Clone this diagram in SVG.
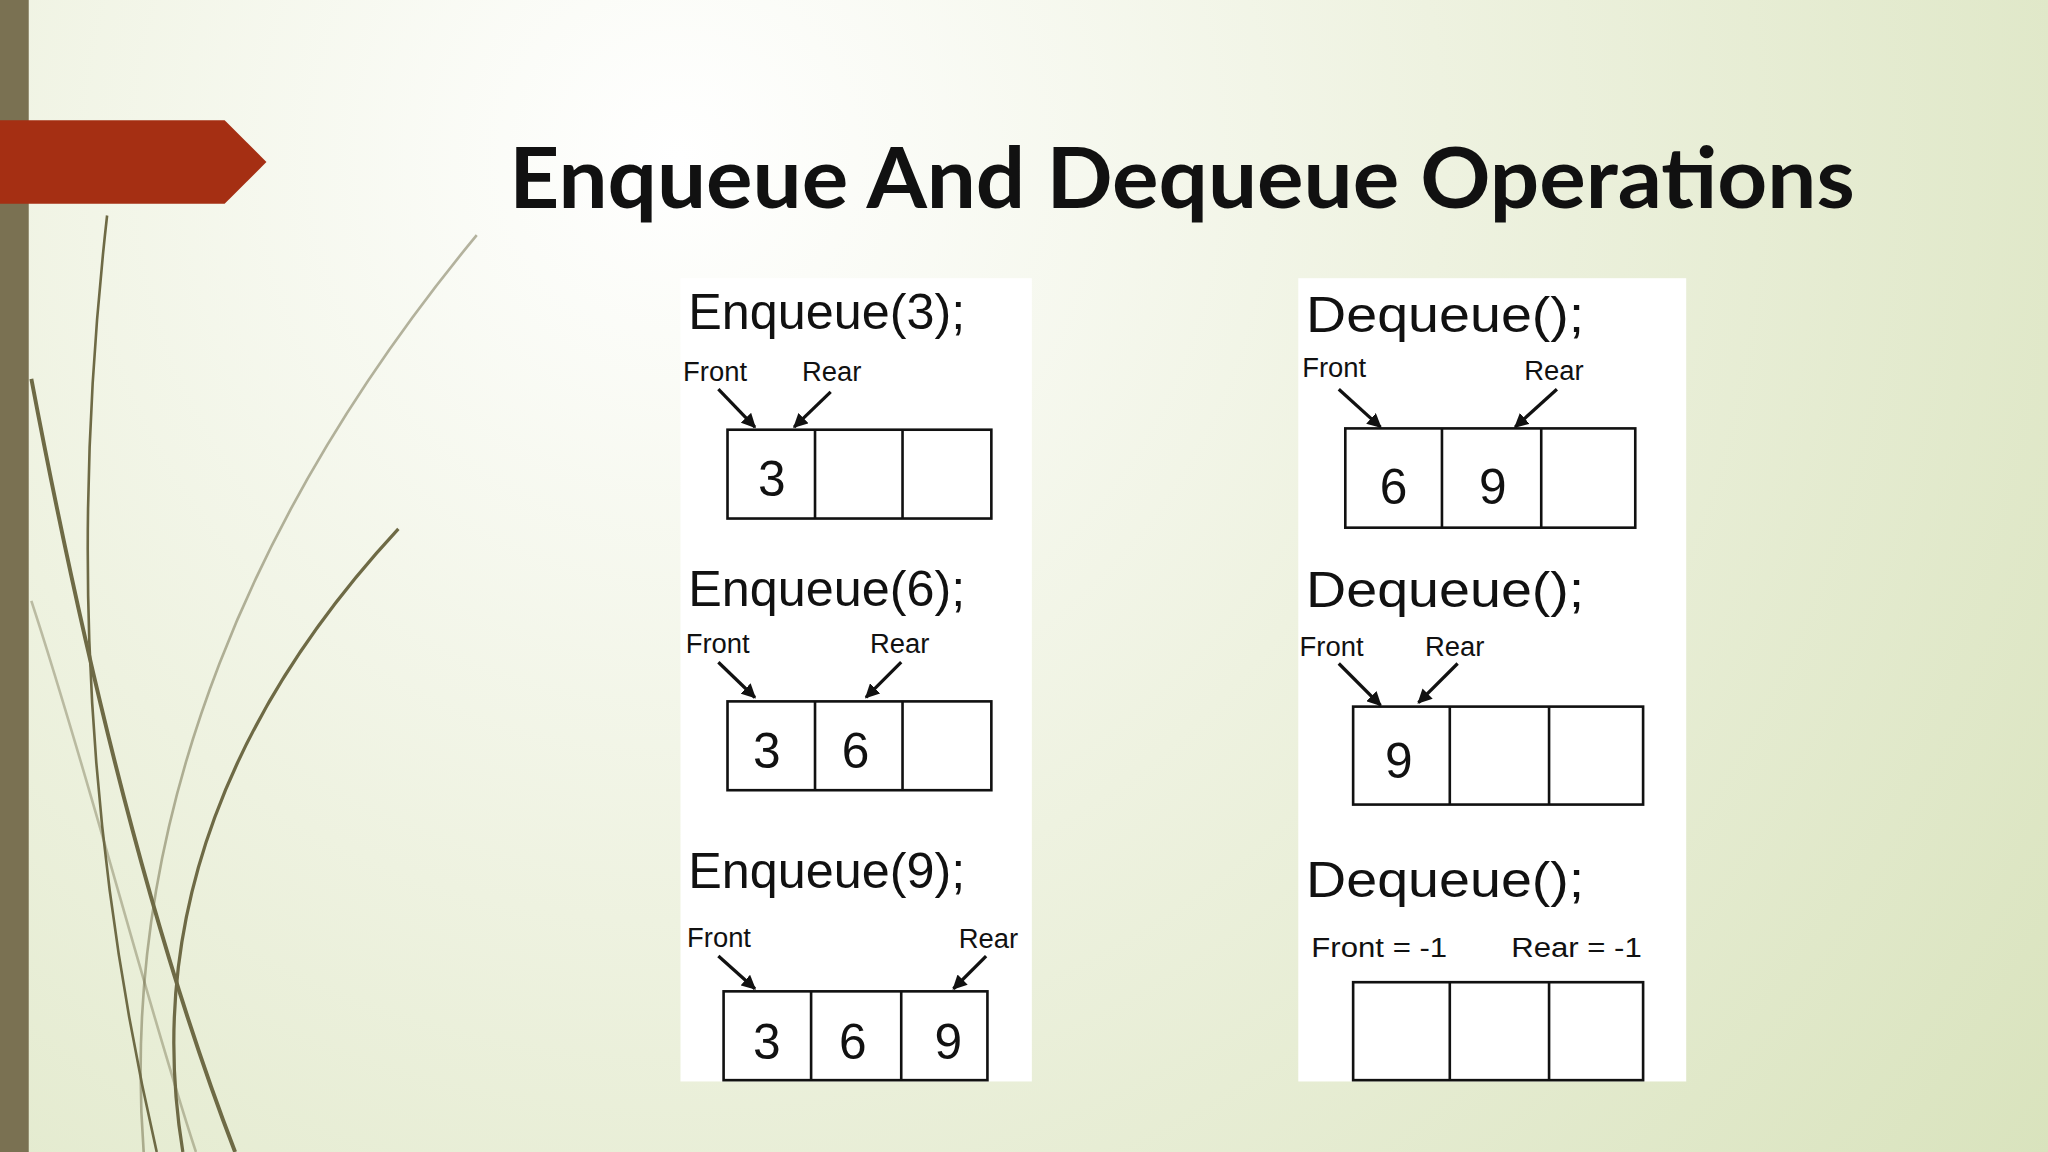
<svg xmlns="http://www.w3.org/2000/svg" width="2048" height="1152" viewBox="0 0 2048 1152">
<defs>
<radialGradient id="bg" cx="520" cy="120" r="1300" gradientUnits="userSpaceOnUse">
<stop offset="0" stop-color="#ffffff"/><stop offset="0.45" stop-color="#eef2e0"/><stop offset="1" stop-color="#d9e3bd"/>
</radialGradient>
<marker id="ah" viewBox="0 0 10 10" refX="9" refY="5" markerWidth="11" markerHeight="11" orient="auto" markerUnits="userSpaceOnUse"><path d="M0,0 L10,5 L0,10 z" fill="#111"/></marker>
<style>
.t{font-family:"Liberation Sans",Arial,sans-serif;fill:#111}
.h{font-size:38px}
.l{font-size:21px}
.n{font-size:38px;text-anchor:middle}
.box{fill:#fff;stroke:#111;stroke-width:2}
.ar{stroke:#111;stroke-width:2.5;marker-end:url(#ah)}
.g{fill:none;stroke:#6e6a45}
</style>
</defs>
<g transform="scale(1.306122)">
<rect width="1568" height="882" fill="url(#bg)"/>
<g id="grass">
<path class="g" stroke-width="2" d="M82,165 C60,360 55,600 120,882"/>
<path class="g" stroke-width="3" d="M24,290 C60,480 110,700 180,882"/>
<path class="g" stroke-width="2" opacity="0.5" d="M365,180 C200,380 90,620 110,882"/>
<path class="g" stroke-width="2.5" d="M305,405 C180,540 110,700 140,882"/>
<path class="g" stroke-width="2" opacity="0.4" d="M24,460 C70,600 110,760 150,882"/>
</g>
<rect x="0" y="0" width="22" height="882" fill="#7a7152"/>
<polygon points="0,92 172,92 204,124 172,156 0,156" fill="#a52f13"/>
<text x="905" y="159" text-anchor="middle" font-family="Lato,'Open Sans',sans-serif" font-weight="bold" font-size="64" textLength="1030" lengthAdjust="spacingAndGlyphs" fill="#111">Enqueue And Dequeue Operations</text>
<rect x="521" y="213" width="269" height="615" fill="#fff"/>
<rect x="994" y="213" width="297" height="615" fill="#fff"/>
<g id="connectors">
<line class="ar" x1="550" y1="298" x2="578" y2="327"/><line class="ar" x1="636" y1="300" x2="608" y2="327"/>
<line class="ar" x1="550" y1="507" x2="578" y2="534"/><line class="ar" x1="690" y1="507" x2="663" y2="534"/>
<line class="ar" x1="550" y1="732" x2="578" y2="757"/><line class="ar" x1="755" y1="732" x2="730" y2="757"/>
<line class="ar" x1="1025" y1="298" x2="1057" y2="327"/><line class="ar" x1="1192" y1="298" x2="1160" y2="327"/>
<line class="ar" x1="1025" y1="508" x2="1057" y2="540"/><line class="ar" x1="1116" y1="508" x2="1086" y2="538"/>
</g>
<g id="enq3">
<text class="t h" x="527" y="252" textLength="212" lengthAdjust="spacingAndGlyphs">Enqueue(3);</text>
<text class="t l" x="523" y="292">Front</text><text class="t l" x="614" y="292">Rear</text>
<rect class="box" x="557" y="329" width="202" height="68"/><line class="box" x1="624" y1="329" x2="624" y2="397"/><line class="box" x1="691" y1="329" x2="691" y2="397"/>
<text class="t n" x="591" y="380">3</text>
</g>
<g id="enq6">
<text class="t h" x="527" y="464" textLength="212" lengthAdjust="spacingAndGlyphs">Enqueue(6);</text>
<text class="t l" x="525" y="500">Front</text><text class="t l" x="666" y="500">Rear</text>
<rect class="box" x="557" y="537" width="202" height="68"/><line class="box" x1="624" y1="537" x2="624" y2="605"/><line class="box" x1="691" y1="537" x2="691" y2="605"/>
<text class="t n" x="587" y="588">3</text><text class="t n" x="655" y="588">6</text>
</g>
<g id="enq9">
<text class="t h" x="527" y="680" textLength="212" lengthAdjust="spacingAndGlyphs">Enqueue(9);</text>
<text class="t l" x="526" y="725">Front</text><text class="t l" x="734" y="726">Rear</text>
<rect class="box" x="554" y="759" width="202" height="68"/><line class="box" x1="621" y1="759" x2="621" y2="827"/><line class="box" x1="690" y1="759" x2="690" y2="827"/>
<text class="t n" x="587" y="811">3</text><text class="t n" x="653" y="811">6</text><text class="t n" x="726" y="811">9</text>
</g>
<g id="deq1">
<text class="t h" x="1000" y="254" font-size="41" textLength="213" lengthAdjust="spacingAndGlyphs">Dequeue();</text>
<text class="t l" x="997" y="289" font-size="23">Front</text><text class="t l" x="1167" y="291" font-size="23">Rear</text>
<rect class="box" x="1030" y="328" width="222" height="76"/><line class="box" x1="1104" y1="328" x2="1104" y2="404"/><line class="box" x1="1180" y1="328" x2="1180" y2="404"/>
<text class="t n" x="1067" y="386" font-size="41">6</text><text class="t n" x="1143" y="386" font-size="41">9</text>
</g>
<g id="deq2">
<text class="t h" x="1000" y="465" font-size="41" textLength="213" lengthAdjust="spacingAndGlyphs">Dequeue();</text>
<text class="t l" x="995" y="502" font-size="23">Front</text><text class="t l" x="1091" y="502" font-size="23">Rear</text>
<rect class="box" x="1036" y="541" width="222" height="75"/><line class="box" x1="1110" y1="541" x2="1110" y2="616"/><line class="box" x1="1186" y1="541" x2="1186" y2="616"/>
<text class="t n" x="1071" y="596" font-size="41">9</text>
</g>
<g id="deq3">
<text class="t h" x="1000" y="687" font-size="41" textLength="213" lengthAdjust="spacingAndGlyphs">Dequeue();</text>
<text class="t l" x="1004" y="733" font-size="23" textLength="104" lengthAdjust="spacingAndGlyphs">Front = -1</text><text class="t l" x="1157" y="733" font-size="23" textLength="100" lengthAdjust="spacingAndGlyphs">Rear = -1</text>
<rect class="box" x="1036" y="752" width="222" height="75"/><line class="box" x1="1110" y1="752" x2="1110" y2="827"/><line class="box" x1="1186" y1="752" x2="1186" y2="827"/>
</g>
</g>
</svg>
